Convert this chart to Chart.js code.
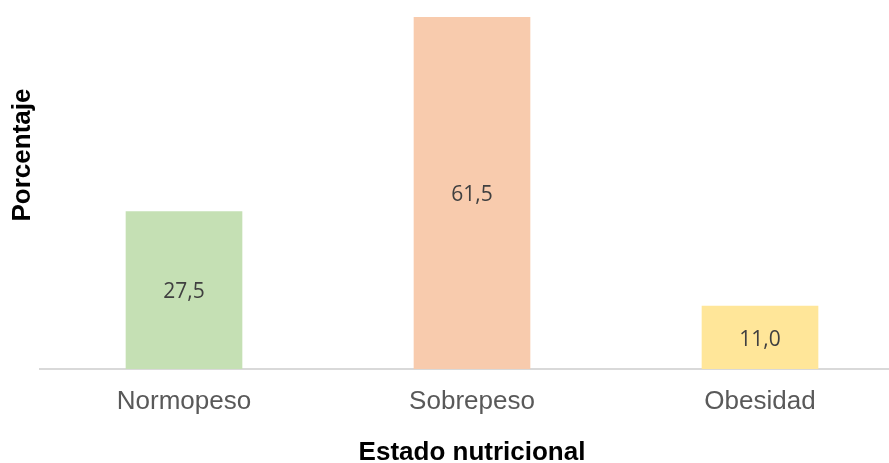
<!DOCTYPE html>
<html>
<head>
<meta charset="utf-8">
<script src="https://cdn.jsdelivr.net/npm/chart.js@4"></script>
<style>
  html, body { margin: 0; padding: 0; background: #fff; overflow: hidden; }
  #caja { width: 904px; height: 463px; position: relative; }
</style>
</head>
<body>
<div id="caja"><canvas id="grafico"></canvas></div>
<script>
// Datos
const categorias = ['Normopeso', 'Sobrepeso', 'Obesidad'];
const porcentajes = [27.5, 61.5, 11.0];
const colores = ['#c5e0b4', '#f8cbad', '#ffe699'];

const tituloY = 'Porcentaje';
const tituloX = 'Estado nutricional';

// etiquetas de valor centradas en cada barra (formato con coma)
const etiquetasBarras = {
    id: 'etiquetasBarras',
    afterDatasetsDraw(chart) {
        const ctx = chart.ctx;
        const meta = chart.getDatasetMeta(0);
        ctx.save();
        ctx.font = '21px "Open Sans"';
        ctx.fillStyle = '#404040';
        ctx.textAlign = 'center';
        ctx.textBaseline = 'middle';
        meta.data.forEach((barra, i) => {
            const texto = porcentajes[i].toFixed(1).replace('.', ',');
            ctx.fillText(texto, barra.x, (barra.y + barra.base) / 2 + 2);
        });
        ctx.restore();
    }
};

// título del eje Y (en el original no está centrado sobre el área)
const tituloEjeY = {
    id: 'tituloEjeY',
    afterDraw(chart) {
        const ctx = chart.ctx;
        ctx.save();
        ctx.translate(23, 155);
        ctx.rotate(-Math.PI / 2);
        ctx.font = 'bold 26px "Liberation Sans", Arial, sans-serif';
        ctx.fillStyle = '#000';
        ctx.textAlign = 'center';
        ctx.textBaseline = 'middle';
        ctx.fillText(tituloY, 0, 0);
        ctx.restore();
    }
};

new Chart(document.getElementById('grafico').getContext('2d'), {
    type: 'bar',
    data: {
        labels: categorias,
        datasets: [{
            data: porcentajes,
            backgroundColor: colores,
            borderWidth: 0,
            barThickness: 116
        }]
    },
    options: {
        responsive: true,
        maintainAspectRatio: false,
        animation: false,
        layout: { padding: { left: 40, top: 17, right: 0, bottom: 0 } },
        plugins: {
            legend: { display: false },
            tooltip: { enabled: false }
        },
        scales: {
            y: { display: false, min: 0, max: 61.5 },
            x: {
                grid: { display: false, drawTicks: false },
                border: { color: '#d9d9d9', width: 2 },
                ticks: {
                    color: '#595959',
                    padding: 17,
                    font: { family: '"Liberation Sans", Arial, sans-serif', size: 26 }
                },
                title: {
                    display: true,
                    text: tituloX,
                    color: '#000',
                    padding: 0,
                    font: { family: '"Liberation Sans", Arial, sans-serif', size: 26, weight: 'bold', lineHeight: 0.8 }
                },
                afterFit: s => { s.height = 94; }
            }
        }
    },
    plugins: [etiquetasBarras, tituloEjeY]
});
</script>
</body>
</html>
